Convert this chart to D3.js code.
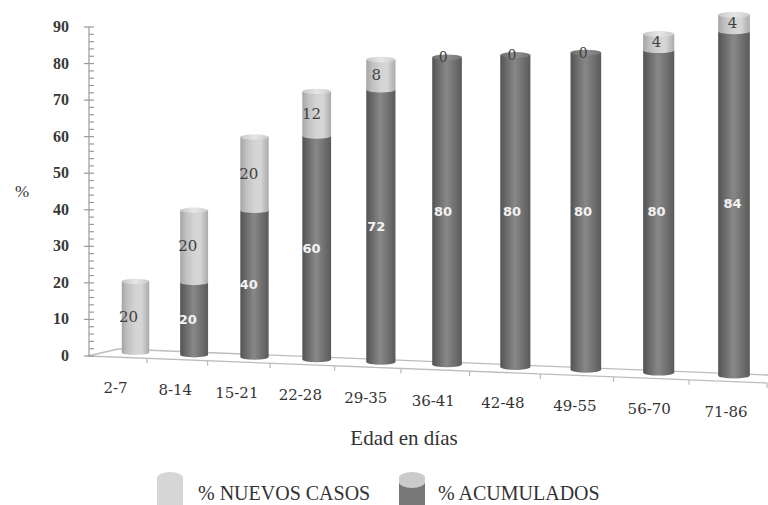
<!DOCTYPE html>
<html><head><meta charset="utf-8">
<script src="https://cdn.jsdelivr.net/npm/d3@7"></script>
<style>body{margin:0;background:#fff}</style></head>
<body><svg id="c" width="768" height="505"></svg>
<script>
const categories = ["2-7","8-14","15-21","22-28","29-35","36-41","42-48","49-55","56-70","71-86"];
const nuevos = [20,20,20,12,8,0,0,0,4,4];
const acumulados = [0,20,40,60,72,80,80,80,80,84];
const yTicks = [0,10,20,30,40,50,60,70,80,90];
const seriesNames = ["% NUEVOS CASOS","% ACUMULADOS"];
const axisTitle = "%";
const xTitle = "Edad en días";

const svg = d3.select("#c");
const serif = "'Liberation Serif','DejaVu Serif',serif";
const dserif = "'DejaVu Serif','Liberation Serif',serif";
const sans = "'DejaVu Sans','Liberation Sans',sans-serif";

// perspective helpers
const K = 0.0145;
const P = u => u/(1-K*u);
const S = u => (1-0.5*K)/(1-K*u);

const yAxis = d3.scaleLinear().domain([0,90]).range([356,27]);
const xFront = d3.scaleLinear().domain([P(0),P(9)]).range([88,689]);
const yFrontOf = d3.scaleLinear().domain([88,768]).range([356,383]);
const yBackOf = d3.scaleLinear().domain([118,768]).range([349,375]);
const xBar = d3.scaleLinear().domain([P(0.5),P(9.5)]).range([135.5,734]);
const baseOf = d3.scaleLinear().domain([135.5,734]).range([352.5,375.5]);
const hUnit = d3.scaleLinear().domain([0,1]).range([0,3.56]);
const labelShift = d3.scaleLinear().domain([0,categories.length-1]).range([-7,-1.5]);

// gradients
const defs = svg.append("defs");
function grad(id, stops){
  const g = defs.append("linearGradient").attr("id",id).attr("x1","0%").attr("x2","100%").attr("y1","0%").attr("y2","0%");
  stops.forEach(([o,c])=>g.append("stop").attr("offset",o).attr("stop-color",c));
}
grad("gLight",[["0%","#a4a4a4"],["20%","#c0c0c0"],["50%","#d4d4d4"],["72%","#d6d6d6"],["100%","#aaaaaa"]]);
grad("gDark",[["0%","#535353"],["18%","#686868"],["48%","#888888"],["72%","#737373"],["100%","#5a5a5a"]]);
grad("gLightCap",[["0%","#c8c8c8"],["50%","#e6e6e6"],["100%","#cccccc"]]);
grad("gDarkCap",[["0%","#6c6c6c"],["50%","#909090"],["100%","#747474"]]);

// floor
const floor = svg.append("g").attr("stroke","#bdbdbd").attr("stroke-width",1.3).attr("fill","none");
const xEnd = xFront(P(10));
floor.append("line").attr("x1",88).attr("y1",yFrontOf(88)).attr("x2",xEnd).attr("y2",yFrontOf(xEnd));
floor.append("line").attr("x1",88).attr("y1",yFrontOf(88)).attr("x2",118).attr("y2",yBackOf(118));
floor.append("line").attr("x1",118).attr("y1",yBackOf(118)).attr("x2",768).attr("y2",yBackOf(768));
d3.range(1,11).forEach(j=>{
  const x = xFront(P(j));
  floor.append("line").attr("x1",x).attr("x2",x).attr("y1",yFrontOf(x)).attr("y2",yFrontOf(x)+5);
});

// y axis
const ax = svg.append("g").attr("stroke","#9a9a9a").attr("stroke-width",1.2);
ax.append("line").attr("x1",89).attr("x2",89).attr("y1",yAxis(90)).attr("y2",yAxis(0));
d3.range(0,91,2).forEach(v=>{
  const major = v%10===0;
  ax.append("line").attr("x1",major?84:89).attr("x2",94).attr("y1",yAxis(v)).attr("y2",yAxis(v));
});
svg.append("g").selectAll("text").data(yTicks).join("text")
  .attr("x",69).attr("y",d=>yAxis(d)+5).attr("text-anchor","end")
  .attr("font-family",serif).attr("font-weight","bold").attr("font-size",16).attr("fill","#383838")
  .text(d=>d);
svg.append("text").attr("x",22).attr("y",197).attr("text-anchor","middle")
  .attr("font-family",serif).attr("font-size",17).attr("fill","#333").text(axisTitle);

// bars
const bars = svg.append("g");
categories.forEach((c,i)=>{
  const u = i+0.5, s = S(u);
  const cx = xBar(P(u));
  const w = 27.5*s, rx = w/2, ry = 2.6*s;
  const x0 = cx-rx, x1 = cx+rx;
  const base = baseOf(cx);
  const unit = hUnit(1)*s;
  const yv = v => base - v*unit;
  const seg = (a,b,fill)=>{
    bars.append("path")
      .attr("d",`M${x0},${yv(b)} L${x0},${yv(a)} A${rx},${ry} 0 0 0 ${x1},${yv(a)} L${x1},${yv(b)} Z`)
      .attr("fill",fill);
  };
  const acc = acumulados[i], nv = nuevos[i], tot = acc+nv;
  if(acc>0) seg(0,acc,"url(#gDark)");
  if(nv>0) seg(acc,tot,"url(#gLight)");
  bars.append("ellipse").attr("cx",cx).attr("cy",yv(tot)).attr("rx",rx).attr("ry",ry)
    .attr("fill", nv>0 ? "url(#gLightCap)" : "url(#gDarkCap)");
  // labels
  const lx = cx + labelShift(i);
  bars.append("text").attr("x",lx).attr("y",yv(acc+nv/2)+5).attr("text-anchor","middle")
    .attr("font-family",dserif).attr("font-size",nv>0?15:14).attr("fill","#404040").text(nv);
  if(acc>0){
    bars.append("text").attr("x",lx).attr("y",yv(acc/2)+5).attr("text-anchor","middle")
      .attr("font-family",sans).attr("font-weight","bold").attr("font-size",13).attr("fill","#f2f2f2").text(acc);
  }
});

// x labels
svg.append("g").selectAll("text").data(categories).join("text")
  .each(function(d,j){
    const x = (xFront(P(j))+xFront(P(j+1)))/2 - 2;
    d3.select(this).attr("x",x).attr("y",yFrontOf(x)+36);
  })
  .attr("text-anchor","middle").attr("font-family",dserif).attr("font-size",15).attr("fill","#333")
  .text(d=>d);

svg.append("text").attr("x",404).attr("y",445).attr("text-anchor","middle")
  .attr("font-family",serif).attr("font-size",21).attr("fill","#333").text(xTitle);

// legend
const leg = svg.append("g");
function swatch(x, topColor, bodyColor, split){
  const w = 26, rx = 13, ry = 6, top = 478;
  leg.append("path").attr("d",`M${x},510 L${x},${top} A${rx},${ry} 0 0 1 ${x+w},${top} L${x+w},510 Z`).attr("fill",topColor);
  if(split) leg.append("path").attr("d",`M${x},510 L${x},${split} A${rx},${ry} 0 0 0 ${x+w},${split} L${x+w},510 Z`).attr("fill",bodyColor);
}
swatch(157,"#d6d6d6",null,null);
swatch(399,"#cbcbcb","#787878",482);
leg.selectAll("text").data(seriesNames).join("text")
  .attr("x",(d,i)=>i===0?198:438).attr("y",500)
  .attr("font-family",serif).attr("font-size",20).attr("fill","#333").text(d=>d);
</script></body></html>
